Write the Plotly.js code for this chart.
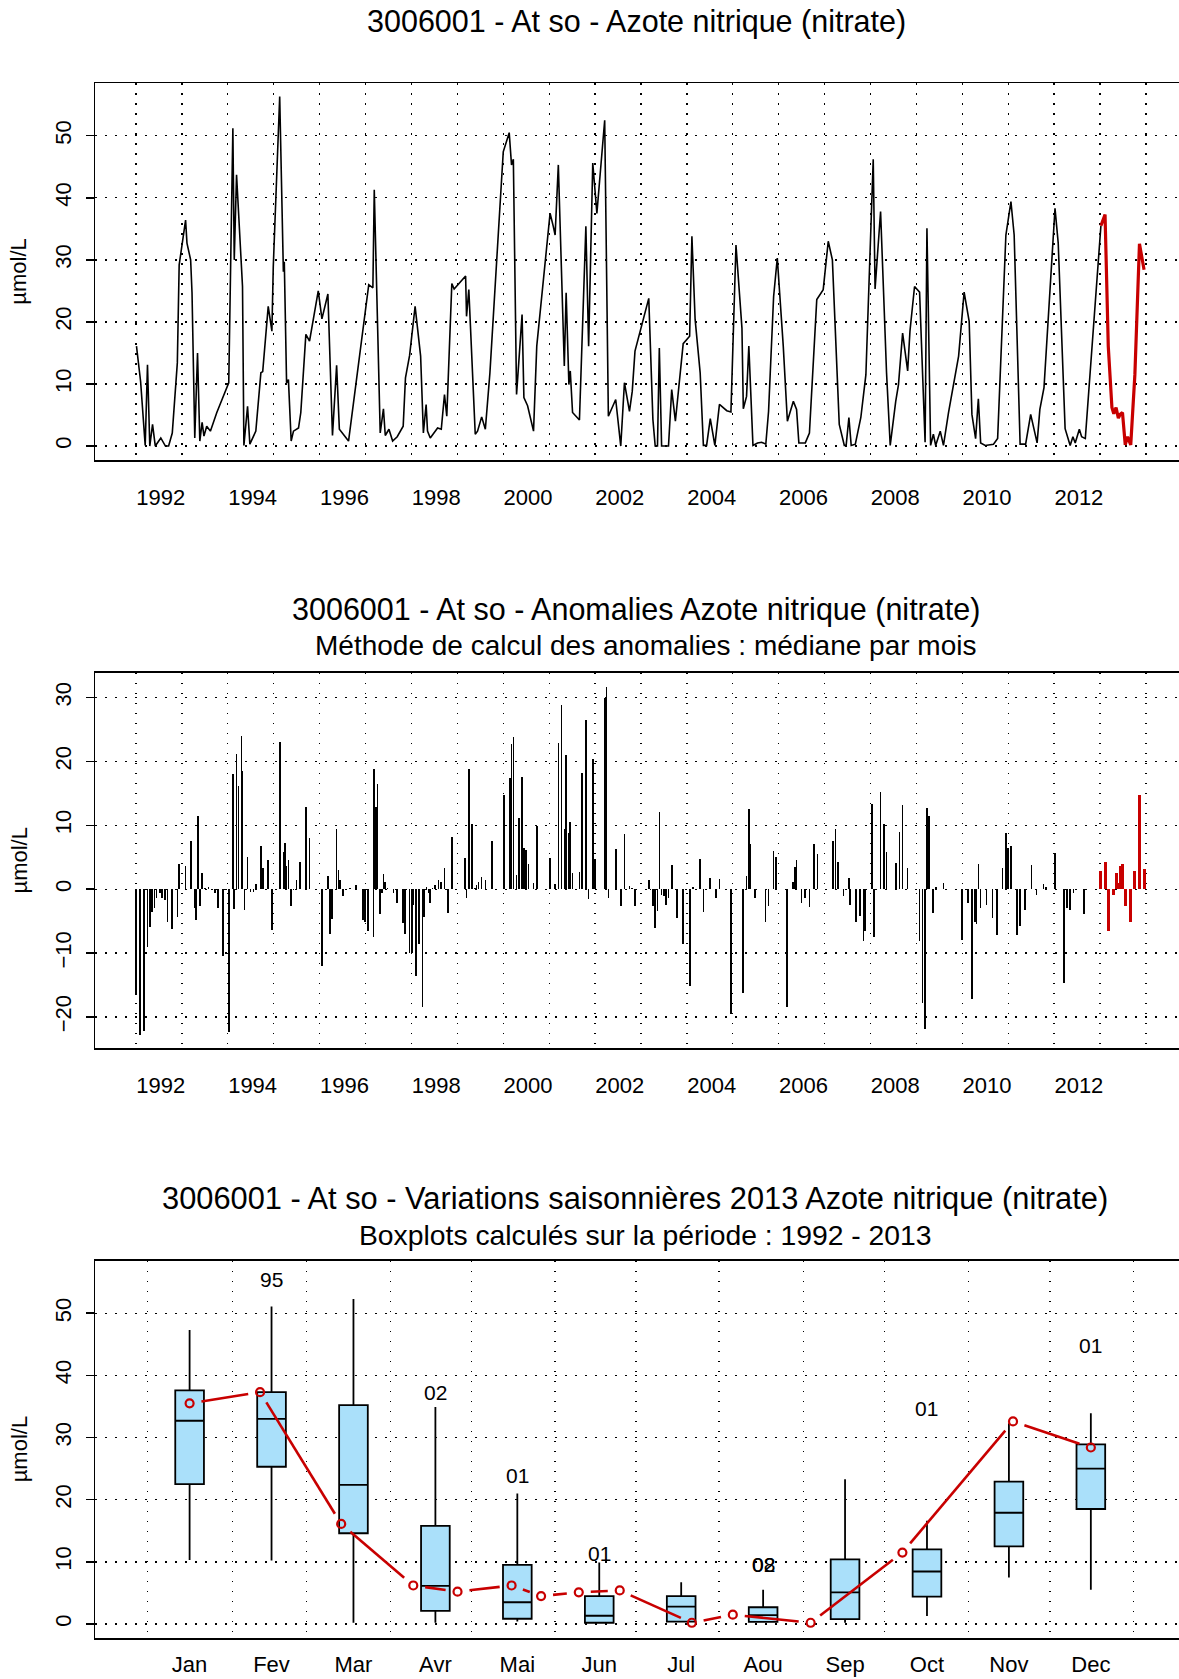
<!DOCTYPE html>
<html><head><meta charset="utf-8">
<script src="https://cdn.plot.ly/plotly-3.0.1.min.js"></script>
<style>html,body{margin:0;padding:0;overflow:hidden;background:#fff;width:1179px;height:1679px}#chart{width:1190px;height:1679px}</style>
</head><body><div id="chart"></div>
<script>
// ---------- DATA ----------
const seriesDates = [
1992.01,1992.10,1992.20,1992.25,1992.30,1992.36,1992.42,1992.54,1992.64,1992.71,1992.79,1992.90,1992.94,
1993.08,1993.11,1993.19,1993.22,1993.28,1993.34,1993.39,1993.44,1993.48,1993.54,1993.62,1993.76,1993.90,
1994.02,1994.11,1994.14,1994.19,1994.23,1994.32,1994.35,1994.43,1994.48,1994.61,1994.72,1994.76,1994.88,1994.96,1994.99,
1995.13,1995.21,1995.23,1995.28,1995.32,1995.38,1995.43,1995.54,1995.59,1995.70,1995.78,1995.97,
1996.05,1996.18,1996.28,1996.37,1996.43,1996.63,
1997.07,1997.16,1997.19,1997.32,1997.39,1997.43,1997.51,1997.59,1997.69,1997.82,1997.87,1997.96,
1998.08,1998.20,1998.26,1998.32,1998.35,1998.41,1998.57,1998.65,1998.72,1998.77,1998.88,1998.93,
1999.18,1999.20,1999.25,1999.39,1999.44,1999.53,1999.61,1999.71,
2000.00,2000.13,2000.18,2000.22,2000.29,2000.41,2000.45,2000.53,2000.66,2000.73,
2001.02,2001.09,2001.13,2001.20,2001.33,2001.37,2001.43,2001.46,2001.51,2001.66,2001.80,2001.86,2001.95,
2002.04,2002.21,2002.29,2002.45,2002.56,2002.64,2002.75,2002.81,2002.87,
2003.17,2003.26,2003.31,2003.36,2003.40,2003.45,2003.60,2003.67,2003.75,2003.92,
2004.06,2004.11,2004.18,2004.29,2004.36,2004.43,2004.51,2004.61,2004.71,2004.87,2004.96,
2005.07,2005.20,2005.23,2005.30,2005.35,2005.44,2005.54,2005.63,2005.72,2005.78,2005.89,2005.97,
2006.10,2006.19,2006.32,2006.39,2006.44,2006.58,2006.67,2006.83,2006.97,
2007.08,2007.17,2007.32,2007.43,2007.47,2007.53,2007.58,2007.67,2007.79,2007.90,
2008.03,2008.06,2008.10,2008.22,2008.35,2008.43,2008.55,2008.61,2008.70,2008.81,2008.86,2008.96,
2009.07,2009.19,2009.23,2009.31,2009.37,2009.42,2009.52,2009.59,2009.70,2009.92,
2010.04,2010.15,2010.21,2010.29,2010.35,2010.40,2010.50,2010.68,2010.77,2010.95,
2011.06,2011.13,2011.26,2011.38,2011.49,2011.63,2011.69,2011.78,
2012.02,2012.09,2012.24,2012.35,2012.41,2012.46,2012.55,2012.60,2012.68,2013.02];
const seriesValues = [
16.1,10.4,0.1,13.1,0.0,3.5,0.0,1.3,0.0,0.0,2.1,13.4,29.2,
36.4,32.7,30.0,24.7,1.3,15.0,0.8,3.8,1.6,3.2,2.4,5.4,8.0,
10.2,51.2,30.0,43.7,38.6,25.7,0.1,6.4,0.3,2.4,11.8,12.0,22.5,18.5,28.9,
56.3,28.1,29.7,10.2,10.7,0.8,2.4,2.9,5.4,18.0,16.9,25.0,
20.5,24.5,1.7,13.0,2.7,0.8,
26.0,25.5,41.3,2.1,6.0,1.7,2.7,0.8,1.5,3.2,11.0,14.6,
22.5,14.5,2.1,6.7,2.4,1.3,2.9,2.7,8.3,4.8,26.2,25.3,
27.4,20.9,25.2,1.9,2.4,4.7,2.7,11.8,
47.4,50.5,45.3,46.2,8.3,21.2,7.8,6.5,2.4,16.1,
37.5,35.4,34.0,45.3,12.9,24.7,9.9,12.1,5.4,4.2,35.4,16.1,45.6,
37.5,52.5,4.8,7.5,0.0,10.2,5.6,8.8,15.3,
23.8,4.3,0.0,0.0,15.8,0.0,0.0,9.1,4.0,16.5,
17.7,33.8,20.4,11.8,0.1,0.1,4.4,0.1,6.7,5.7,5.5,
32.4,19.0,6.0,8.0,16.1,0.1,0.5,0.6,0.3,5.6,24.1,30.3,
16.1,4.0,7.2,5.9,0.5,0.5,2.1,23.6,25.2,
33.0,30.0,3.5,0.1,0.1,4.6,0.1,0.3,4.6,11.5,
38.6,46.2,25.3,37.8,11.8,0.1,7.2,9.9,18.2,12.1,18.5,25.7,
24.8,0.6,35.1,0.1,1.9,0.1,2.4,0.1,5.4,14.5,
24.8,20.1,5.1,1.2,7.6,0.5,0.1,0.3,1.2,34.0,
39.4,34.0,0.3,0.3,5.1,0.5,5.9,9.4,
38.3,32.7,2.8,0.1,1.5,0.5,2.7,1.5,1.2,35.5];

// current year (2013), shown in red
const current2013Dates  = [2013.02,2013.11,2013.18,2013.26,2013.30,2013.35,2013.40,2013.44,2013.49,2013.55,2013.60,2013.67,2013.76,2013.86,2013.96];
const current2013Values = [35.5,37.3,16.1,6.2,5.2,6.2,4.5,5.1,5.4,0.2,1.5,0.2,11.5,32.6,28.4];
const current2013MonthPos = [1.0,1.86,2.85,3.73,4.27,4.93,5.29,5.75,6.25,7.13,7.63,8.58,9.70,11.05,12.0];
const anomaly2013Values = [2.9,4.3,-6.5,0.1,-0.9,2.6,1.0,3.6,4.0,-2.7,0.1,-5.1,2.9,14.7,3.1];

const anomalyDates = [
1992.00,1992.09,1992.18,1992.25,1992.31,1992.35,1992.40,1992.45,1992.52,1992.56,1992.63,1992.69,1992.78,1992.90,1992.94,
1993.08,1993.20,1993.27,1993.31,1993.35,1993.39,1993.44,1993.50,1993.58,1993.65,1993.72,1993.79,1993.89,1993.94,
1994.03,1994.11,1994.14,1994.19,1994.23,1994.30,1994.32,1994.36,1994.43,1994.49,1994.56,1994.61,1994.72,1994.76,1994.88,1994.96,
1995.14,1995.21,1995.24,1995.28,1995.32,1995.37,1995.43,1995.50,1995.57,1995.70,1995.78,
1996.05,1996.18,1996.23,1996.27,1996.37,1996.41,1996.44,1996.51,1996.59,1996.66,1996.79,1996.94,1996.99,
1997.06,1997.17,1997.19,1997.23,1997.26,1997.32,1997.36,1997.39,1997.42,1997.48,
1997.61,1997.69,1997.81,1997.86,1997.96,
1998.01,1998.04,1998.10,1998.17,1998.24,1998.27,1998.33,1998.37,1998.41,1998.46,1998.51,1998.59,1998.65,1998.72,1998.79,1998.88,
1999.17,1999.20,1999.25,1999.32,1999.39,1999.42,1999.46,1999.53,1999.61,1999.76,
2000.02,2000.15,2000.18,2000.22,2000.29,2000.34,2000.41,2000.45,2000.50,2000.55,2000.66,2000.73,
2001.02,2001.13,2001.20,2001.27,2001.33,2001.37,2001.43,2001.46,2001.51,2001.66,2001.71,2001.80,2001.86,2001.96,
2002.00,2002.22,2002.25,2002.29,2002.45,2002.56,2002.64,2002.75,2002.81,2002.87,
2003.17,2003.21,2003.26,2003.31,2003.36,2003.40,2003.45,2003.50,2003.55,2003.60,2003.67,2003.78,
2003.92,
2004.07,2004.13,2004.29,2004.36,2004.51,2004.63,2004.71,2004.96,
2005.06,2005.22,2005.30,2005.35,2005.39,2005.48,2005.71,2005.78,2005.89,2005.94,
2006.18,2006.31,2006.35,2006.39,2006.50,2006.58,2006.67,2006.77,2006.85,
2007.18,2007.24,2007.29,2007.41,2007.53,2007.56,2007.68,2007.77,2007.85,2007.88,
2008.03,2008.08,2008.22,2008.30,2008.35,2008.55,2008.63,2008.70,2008.81,
2009.07,2009.13,2009.19,2009.23,2009.27,2009.36,2009.43,2009.59,
2010.00,
2010.13,2010.21,2010.28,2010.31,2010.35,2010.40,2010.53,2010.66,2010.75,2010.88,2010.95,
2011.00,2011.06,2011.19,2011.26,2011.37,2011.51,2011.62,2011.77,2011.83,
2012.02,2012.22,2012.28,2012.35,2012.42,2012.65];
const anomalyValues = [
-16.5,-22.8,-22.2,-9.1,-5.9,-3.5,-3.0,-1.4,-0.6,-1.4,-1.7,-5.1,-6.3,-4.3,3.9,
3.7,7.5,-3.0,-4.8,11.5,-2.7,2.6,0.2,0.4,-0.1,-0.6,-3.0,-10.4,-0.1,
-22.3,18.0,-3.1,21.2,16.2,24.0,18.5,-3.2,5.0,-0.5,-0.4,0.9,6.7,3.4,4.6,-6.4,
23.1,5.8,7.3,3.7,4.6,-2.7,-0.1,1.5,4.2,12.8,8.1,
-12.0,2.0,-7.0,-4.6,9.4,3.0,1.5,-1.1,0.0,0.2,0.7,-4.8,-5.1,
-6.6,-7.5,18.8,12.9,16.5,-3.9,-0.6,2.4,1.2,0.2,
-0.6,-2.2,-5.3,-7.0,-10.0,
-10.0,-2.4,-13.6,-8.5,-18.5,-4.3,0.4,-0.6,-2.2,0.2,0.7,1.5,1.2,3.3,-3.7,8.2,
4.9,-1.4,18.9,10.2,0.2,0.7,1.1,1.9,1.5,7.5,
14.8,17.4,22.7,23.8,2.2,11.2,17.5,6.5,6.1,3.9,1.0,9.9,
4.9,0.9,22.9,28.8,9.5,21.0,8.8,10.6,2.5,2.7,18.2,26.5,-1.6,20.4,
4.8,30.0,31.7,-1.4,6.3,-2.7,8.7,0.5,0.2,-2.7,
1.5,-0.1,-2.7,-6.0,-3.4,12.1,-0.9,-1.1,-2.4,-1.3,3.8,-4.5,
-8.6,
-15.1,0.4,4.8,-3.5,1.7,-1.3,1.6,-19.6,
-0.1,-16.3,2.0,12.5,7.1,-1.3,-5.1,-2.7,6.0,5.1,
-18.4,1.2,3.5,4.6,-2.2,-1.4,-2.8,7.1,5.5,
7.5,9.5,4.3,-1.1,1.7,-2.5,-5.1,-4.2,-8.1,-6.6,
13.4,-7.5,15.3,10.2,5.9,4.1,8.9,13.2,3.4,
-8.1,-17.8,-21.8,12.7,11.4,-3.7,0.4,1.0,
-8.0,
-2.2,-17.2,-5.1,-5.4,4.0,-3.0,-2.4,-4.5,-7.1,3.4,8.8,
6.4,6.8,-7.1,-5.8,-3.2,3.8,-0.9,0.8,0.4,
5.6,-14.7,-3.0,-3.2,-0.6,-3.8];

const yearTickPositions = [1992.54,1994.54,1996.54,1998.54,2000.54,2002.54,2004.54,2006.54,2008.54,2010.54,2012.54];
const yearTickLabels = ["1992","1994","1996","1998","2000","2002","2004","2006","2008","2010","2012"];

const monthPositions = [1,2,3,4,5,6,7,8,9,10,11,12];
const monthLabels = ["Jan","Fev","Mar","Avr","Mai","Jun","Jul","Aou","Sep","Oct","Nov","Dec"];
const monthGridPositions = [0.49,1.52,2.43,3.45,4.44,5.46,6.45,7.46,8.49,9.48,10.51,11.5,12.52];

const boxLowerWhisker = [10.3,10.2,0.2,0.2,0.4,0.2,0.4,0.3,0.2,1.3,7.5,5.5];
const boxQ1           = [22.5,25.3,14.6,2.1,0.85,0.2,0.4,0.35,0.8,4.4,12.5,18.5];
const boxMedian       = [32.7,33.0,22.4,6.15,3.5,1.33,2.8,1.44,5.1,8.45,17.9,25.0];
const boxQ3           = [37.6,37.3,35.2,15.8,9.5,4.5,4.5,2.7,10.4,12.0,22.9,28.9];
const boxUpperWhisker = [47.3,51.1,52.3,34.9,21.0,9.9,6.7,5.5,23.3,16.6,32.3,33.9];

const outlierMonth = [2,4,5,6,8,8,10,12];
const outlierValue = [55.4,37.2,23.9,11.4,9.5,9.5,34.7,44.8];
const outlierLabel = ["95","02","01","01","08","02","01","01"];

// ---------- LAYOUT GEOMETRY ----------
const W = 1190, H = 1679;
const xDom = [95.3 / W, 1184 / W];
const yd = (top, bottom) => [1 - bottom / H, 1 - top / H];
const dom1 = yd(83.3, 460), dom2 = yd(672.7, 1048.3), dom3 = yd(1260.7, 1638);
const range1 = [-2.25, 58.45], range2 = [-24.9, 33.9], range3 = [-2.25, 58.45];
const xRangeYears = [1991.113, 2014.83], xRangeMonths = [-0.151, 13.137];

const RED = '#C80000';
const gridDash = '1.5px,8.5px';
const fontFam = 'Liberation Sans, Arial, Helvetica, sans-serif';

function yAxis(domain, range, anchor) {
  return {domain, range, anchor, tickmode:'linear', tick0:0, dtick:10, tickangle:-90,
    ticks:'outside', ticklen:8, tickwidth:1.5, tickcolor:'#000',
    showline:true, mirror:true, linecolor:'#000', linewidth:1.6,
    showgrid:true, gridcolor:'#000', gridwidth:1.3, griddash:gridDash,
    zeroline:false, tickfont:{size:22, color:'#000'}, ticklabelstandoff:6, fixedrange:true};
}
function xAxisYears(anchor) {
  return {domain:xDom, range:xRangeYears, anchor, tickmode:'array', tickvals:yearTickPositions, ticktext:yearTickLabels,
    ticks:'', showgrid:false,
    minor:{tickmode:'linear', tick0:1992, dtick:1, showgrid:true, gridcolor:'#000', gridwidth:1.3, griddash:gridDash, ticks:''},
    showline:true, mirror:true, linecolor:'#000', linewidth:1.6, zeroline:false,
    tickfont:{size:22, color:'#000'}, ticklabelstandoff:17, fixedrange:true};
}

// ---------- TRACES ----------
const traces = [];
traces.push({type:'scatter', mode:'lines', x:seriesDates, y:seriesValues, xaxis:'x', yaxis:'y',
  line:{color:'#000', width:1.6}, hoverinfo:'skip'});
traces.push({type:'scatter', mode:'lines', x:current2013Dates, y:current2013Values, xaxis:'x', yaxis:'y',
  line:{color:RED, width:3.2}, hoverinfo:'skip'});

traces.push({type:'bar', x:anomalyDates, y:anomalyValues, width:0.035, xaxis:'x2', yaxis:'y2',
  marker:{color:'#000', line:{width:0}}, hoverinfo:'skip'});
traces.push({type:'bar', x:current2013Dates, y:anomaly2013Values, width:0.065, xaxis:'x2', yaxis:'y2',
  marker:{color:RED, line:{width:0}}, hoverinfo:'skip'});

traces.push({type:'box', x:monthPositions, q1:boxQ1, median:boxMedian, q3:boxQ3,
  lowerfence:boxLowerWhisker, upperfence:boxUpperWhisker, width:0.35, whiskerwidth:0,
  boxpoints:false, fillcolor:'#AAE0FA', line:{color:'#000', width:1.8}, xaxis:'x3', yaxis:'y3', hoverinfo:'skip'});

// red line with gaps around points (R type "b")
(function(){
  const pxX = (xDom[1]-xDom[0])*W/(xRangeMonths[1]-xRangeMonths[0]);
  const pxY = (dom3[1]-dom3[0])*H/(range3[1]-range3[0]);
  const gap = 12;
  const sx = [], sy = [];
  for (let i = 0; i < current2013MonthPos.length - 1; i++) {
    const x0 = current2013MonthPos[i]*pxX, y0 = current2013Values[i]*pxY;
    const x1 = current2013MonthPos[i+1]*pxX, y1 = current2013Values[i+1]*pxY;
    const d = Math.hypot(x1-x0, y1-y0);
    if (d <= 2*gap) continue;
    const ux = (x1-x0)/d, uy = (y1-y0)/d;
    sx.push((x0+ux*gap)/pxX, (x1-ux*gap)/pxX, null);
    sy.push((y0+uy*gap)/pxY, (y1-uy*gap)/pxY, null);
  }
  traces.push({type:'scatter', mode:'lines', x:sx, y:sy, xaxis:'x3', yaxis:'y3',
    line:{color:RED, width:2.6}, hoverinfo:'skip', connectgaps:false});
})();
traces.push({type:'scatter', mode:'markers', x:current2013MonthPos, y:current2013Values, xaxis:'x3', yaxis:'y3',
  marker:{symbol:'circle-open', size:8, color:RED, line:{color:RED, width:2.2}}, hoverinfo:'skip'});

// ---------- ANNOTATIONS ----------
const ann = [];
function paperText(text, px, py, size, angle) {
  return {xref:'paper', yref:'paper', x:px/W, y:1-py/H, text, showarrow:false,
    xanchor:'center', yanchor:'middle', textangle:angle||0, font:{size, color:'#000', family:fontFam}};
}
ann.push(paperText('3006001 - At so - Azote nitrique (nitrate)', 636, 21.5, 30.5));
ann.push(paperText('3006001 - At so - Anomalies Azote nitrique (nitrate)', 636, 609.5, 30.5));
ann.push(paperText('Méthode de calcul des anomalies : médiane par mois', 645, 645.7, 28));
ann.push(paperText('3006001 - At so - Variations saisonnières 2013 Azote nitrique (nitrate)', 634.5, 1198.5, 30.8));
ann.push(paperText('Boxplots calculés sur la période : 1992 - 2013', 645, 1234.5, 28.3));
ann.push(paperText('µmol/L', 19, (83.3+460)/2, 22, -90));
ann.push(paperText('µmol/L', 19, (672.7+1048.3)/2, 22, -90));
ann.push(paperText('µmol/L', 19, (1260.7+1638)/2, 22, -90));
for (let i = 0; i < outlierMonth.length; i++) {
  ann.push({xref:'x3', yref:'y3', x:outlierMonth[i], y:outlierValue[i], text:outlierLabel[i], showarrow:false,
    xanchor:'center', yanchor:'middle', font:{size:21, color:'#000', family:fontFam}});
}

const layout = {
  width:W, height:H, margin:{l:0, r:0, t:0, b:0}, showlegend:false, hovermode:false,
  paper_bgcolor:'#fff', plot_bgcolor:'#fff', barmode:'overlay', bargap:0,
  font:{family:fontFam, size:22, color:'#000'},
  xaxis: xAxisYears('y'), yaxis: yAxis(dom1, range1, 'x'),
  xaxis2: xAxisYears('y2'), yaxis2: yAxis(dom2, range2, 'x2'),
  xaxis3: {domain:xDom, range:xRangeMonths, anchor:'y3', tickmode:'array', tickvals:monthPositions, ticktext:monthLabels,
    ticks:'', showgrid:false,
    minor:{tickmode:'array', tickvals:monthGridPositions, showgrid:true, gridcolor:'#000', gridwidth:1.3, griddash:gridDash, ticks:''},
    showline:true, mirror:true, linecolor:'#000', linewidth:1.6, zeroline:false,
    tickfont:{size:22, color:'#000'}, ticklabelstandoff:6, fixedrange:true},
  yaxis3: yAxis(dom3, range3, 'x3'),
  annotations: ann
};

Plotly.newPlot('chart', traces, layout, {staticPlot:true, displayModeBar:false});
</script>
</body></html>
